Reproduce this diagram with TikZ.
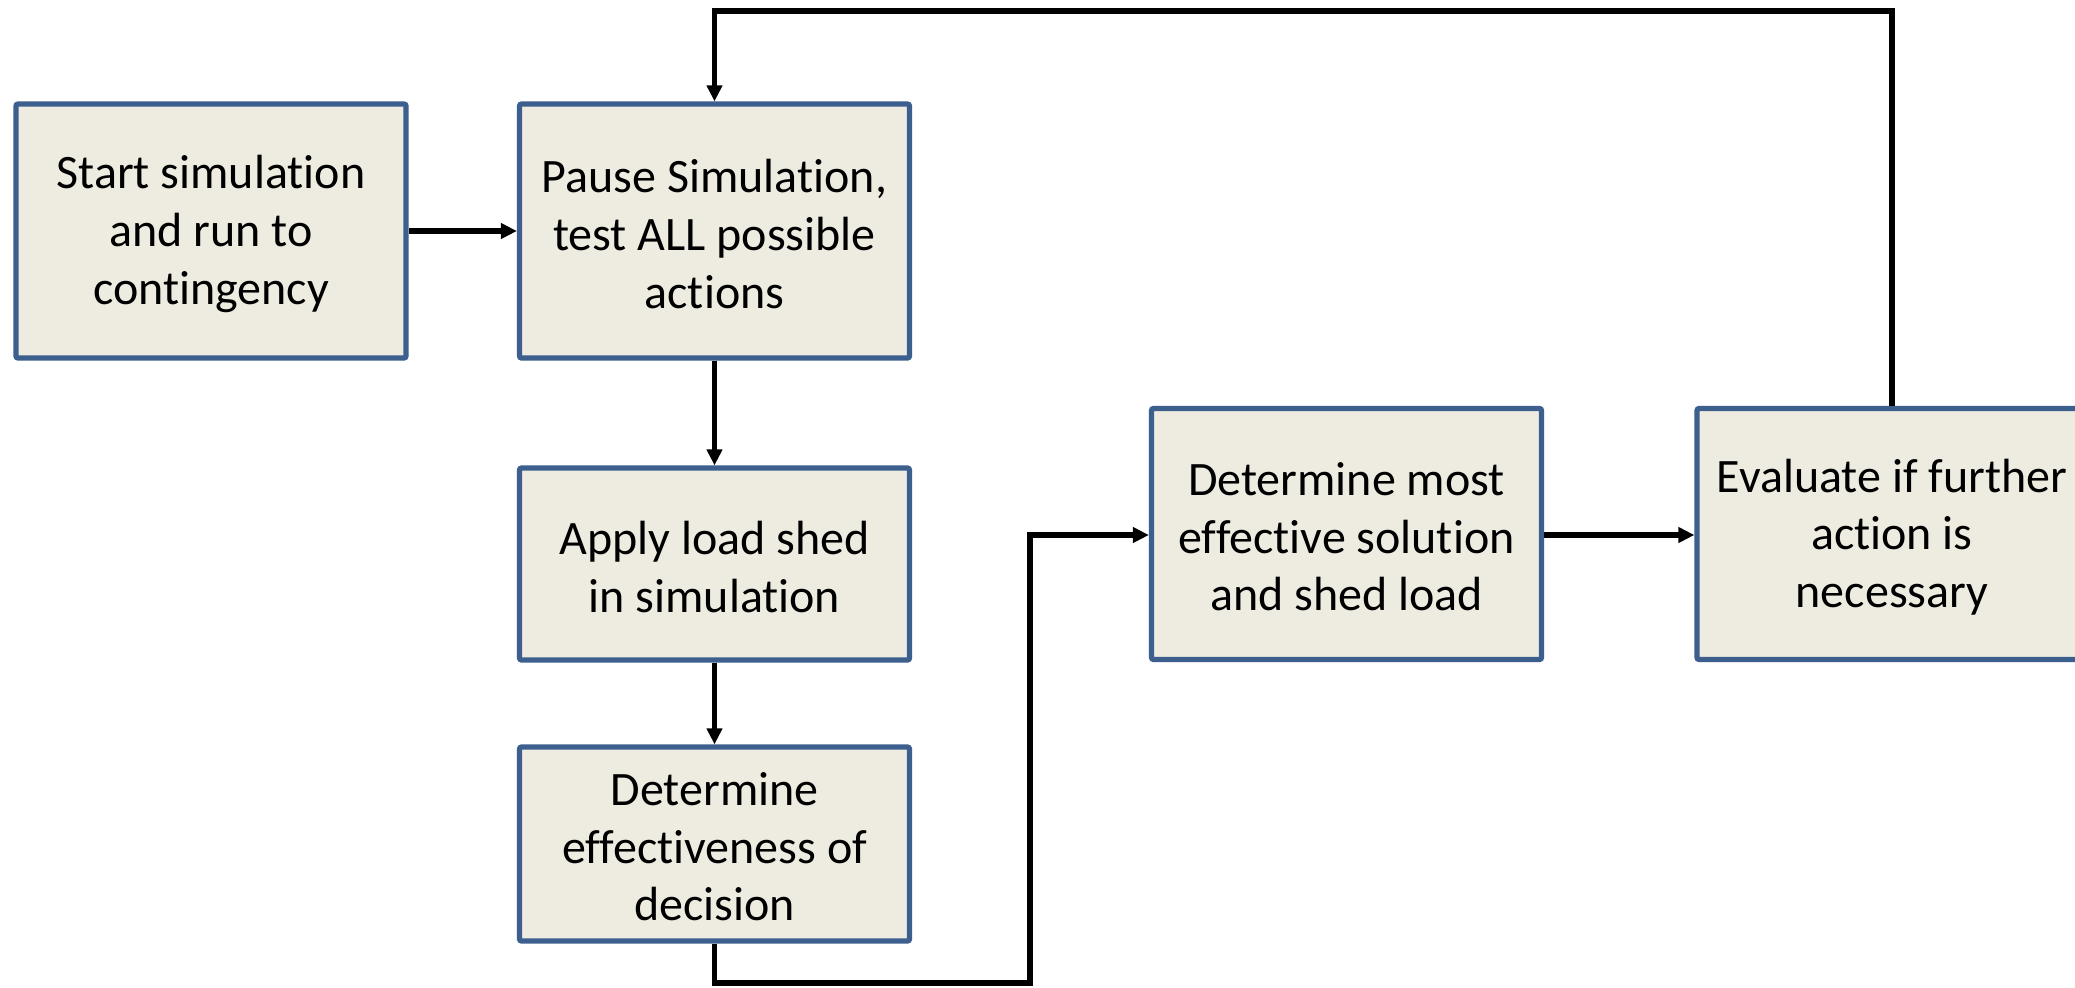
\documentclass[tikz,border=0pt]{standalone}
\usepackage{fontspec}
\setmainfont{Carlito}[Ligatures=NoCommon]
\usetikzlibrary{arrows.meta}
\definecolor{boxedge}{HTML}{3C5F8E}
\definecolor{boxfill}{HTML}{EEECE1}
\begin{document}
\begin{tikzpicture}[x=0.5pt,y=-0.5pt,
  stepbox/.style={draw=boxedge, fill=boxfill, line width=2.6pt, rounded corners=1pt,
    minimum width=195pt, inner sep=0pt},
  steptext/.style={align=center, inner sep=0pt, yshift=-1.5pt,
    font=\fontsize{24}{28.8}\selectfont},
  flow/.style={line width=2.6pt, -{Triangle[length=8pt,width=7.5pt]}}]
\useasboundingbox (0,0) rectangle (2075,987);
\clip (0,0) rectangle (2075,987);
\fill[white] (0,0) rectangle (2075,987);

% boxes
\node[stepbox, minimum height=127pt] (start) at (211,231) {};
\node[stepbox, minimum height=127pt] (pause) at (714.5,231) {};
\node[stepbox, minimum height=96pt] (apply) at (714.5,564) {};
\node[stepbox, minimum height=97pt] (effect) at (714.5,844) {};
\node[stepbox, minimum height=125.5pt] (best) at (1346.5,534) {};
\node[stepbox, minimum height=125.5pt] (eval) at (1892,534) {};

% box captions
\node[steptext] (start-t) at (start.center) {Start simulation\\and run to\\contingency};
\node[steptext] (pause-t) at (pause.center) {Pause Simulation,\\test ALL possible\\actions};
\node[steptext] (apply-t) at (apply.center) {Apply load shed\\in simulation};
\node[steptext] (effect-t) at (effect.center) {Determine\\effectiveness of\\decision};
\node[steptext] (best-t) at (best.center) {Determine most\\effective solution\\and shed load};
\node[steptext] (eval-t) at (eval.center) {Evaluate if further\\action is\\necessary};

\coordinate (low1) at (714.5,983);
\coordinate (low2) at (1030,983);
\coordinate (low3) at (1030,535);
\coordinate (top1) at (1892,11);
\coordinate (top2) at (714.5,11);

% connectors
\draw[flow] (start) -- (pause);
\draw[flow] (pause) -- (apply);
\draw[flow] (apply) -- (effect);
\draw[flow, line join=miter] (effect.south) -- (low1) -- (low2) -- (low3) -- (best.west |- low3);
\draw[flow] (best.east |- low3) -- (eval.west |- low3);
\draw[flow, line join=miter] (eval.north) -- (top1) -- (top2) -- (pause.north);
\end{tikzpicture}
\end{document}
